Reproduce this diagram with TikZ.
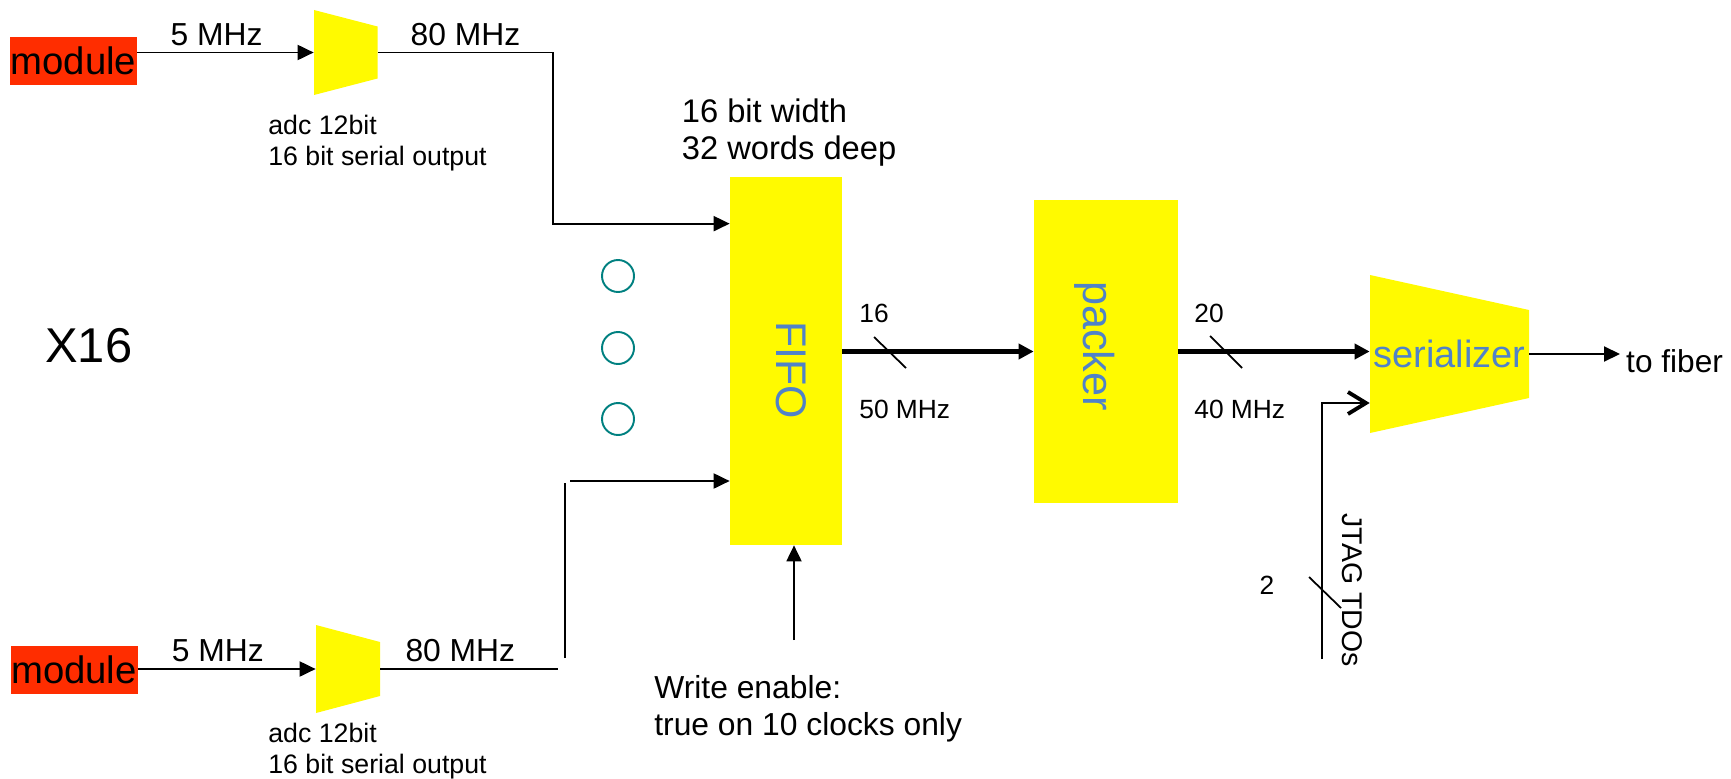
\documentclass[tikz,border=0pt]{standalone}
\usepackage{fontspec}
\setmainfont{Liberation Sans}
\usepackage{tikz}
\usetikzlibrary{arrows.meta, positioning, calc}
\definecolor{chipyellow}{RGB}{255,250,0}
\definecolor{modred}{RGB}{255,45,0}
\definecolor{lblblue}{RGB}{80,130,200}
\definecolor{dotteal}{RGB}{0,128,128}
\tikzset{
  module/.style={rectangle, fill=modred, minimum width=2.54cm, minimum height=0.95cm, inner sep=0pt,
    font=\fontsize{21.8}{25}\selectfont},
  block/.style={rectangle, fill=chipyellow, inner sep=0pt},
  taper/.style={rectangle, inner sep=0pt, path picture={
    \fill[chipyellow] (path picture bounding box.north west)
      -- ([yshift=-#1]path picture bounding box.north east)
      -- ([yshift=#1]path picture bounding box.south east)
      -- (path picture bounding box.south west) -- cycle;}},
  arr/.style={-{Triangle[length=0.32cm, width=0.30cm]}, line width=1.1pt},
  line/.style={line width=1.1pt}
}

\begin{document}
\begin{tikzpicture}[
  mhz/.style={font=\fontsize{18.1}{22}\selectfont, inner sep=0.12cm},
  note/.style={align=left, inner sep=0pt, anchor=north west},
  blocklbl/.style={text=lblblue, inner sep=0pt},
  buslbl/.style={font=\fontsize{15}{18}\selectfont, inner sep=0pt, anchor=base west},
  bus/.style={-{Triangle[length=0.30cm, width=0.30cm]}, line width=2.4pt},
  openarr/.style={-{Straight Barb[length=0.36cm, width=0.44cm, line width=2.2pt]}, line width=1.1pt},
  tick/.style={line width=1pt},
  dot/.style={circle, draw=dotteal, line width=1.1pt, minimum size=0.64cm, inner sep=0pt}
]
\useasboundingbox (0,0) rectangle (34.62,-15.56);

%--- top channel ---
\node[module] (modtop) at (1.47,-1.22) {module};
\node[taper=0.33cm, minimum width=1.27cm, minimum height=1.70cm] (adctop) at (6.915,-1.05) {};
\node[note, font=\fontsize{15.2}{17.6}\selectfont] (adctxt1) at (5.36,-2.29) {adc 12bit\\16 bit serial output};
\draw[arr] (modtop.east |- adctop.west) -- node[above, mhz, pos=0.45] {5 MHz} (adctop.west);

%--- bottom channel ---
\node[module] (modbot) at (1.48,-13.40) {module};
\node[taper=0.34cm, minimum width=1.28cm, minimum height=1.76cm] (adcbot) at (6.96,-13.38) {};
\node[note, font=\fontsize{15.2}{17.6}\selectfont] (adctxt2) at (5.36,-14.45) {adc 12bit\\16 bit serial output};
\draw[arr] (modbot.east |- adcbot.west) -- node[above, mhz, pos=0.45] {5 MHz} (adcbot.west);

\node[font=\fontsize{27.8}{32}\selectfont, anchor=base west, inner sep=0pt] (xsixteen) at (0.90,-7.24) {X16};

%--- FIFO ---
\node[block, minimum width=2.24cm, minimum height=7.36cm,
  label={[blocklbl, font=\fontsize{24.4}{28}\selectfont, xshift=0.10cm, yshift=-0.18cm]center:\rotatebox{-90}{FIFO}}]
  (fifo) at (15.72,-7.22) {};
\node[note, font=\fontsize{18.6}{21.5}\selectfont] (fifotxt) at (13.63,-1.96) {16 bit width\\32 words deep};
\foreach \y [count=\i] in {-5.52,-6.96,-8.38}
  \node[dot] (dot\i) at (12.36,\y) {};

% adc outputs into the FIFO
\coordinate (bendtop) at (11.06,-1.05);
\draw[arr] (adctop.east) -- node[above, mhz] {80 MHz} (bendtop) |- ([yshift=-0.94cm]fifo.north west);
\coordinate (endbot) at (11.16,-13.38);
\draw[line] (adcbot.east) -- node[above, mhz, pos=0.45] {80 MHz} (endbot);
\coordinate (riselow) at (11.30,-13.16);
\coordinate (risehigh) at (11.30,-9.66);
\draw[line] (riselow) -- (risehigh);
\coordinate (inlow) at (11.40,-9.62);
\draw[arr] (inlow) -- (inlow -| fifo.west);

% write enable
\coordinate (wesrc) at (15.88,-12.80);
\draw[arr] (wesrc) -- (wesrc |- fifo.south);
\node[note, font=\fontsize{18.1}{21.3}\selectfont] (wetxt) at (13.08,-13.50) {Write enable:\\true on 10 clocks only};

%--- packer ---
\node[block, minimum width=2.88cm, minimum height=6.06cm,
  label={[blocklbl, font=\fontsize{24.6}{28}\selectfont, xshift=-0.22cm, yshift=0.11cm]center:\rotatebox{-90}{packer}}]
  (packer) at (22.12,-7.03) {};
\draw[bus] (fifo.east |- packer.west) -- (packer.west);
\node[buslbl] (bw16) at (17.18,-6.44) {16};
\draw[tick] (17.48,-6.74) -- (18.12,-7.36);
\node[buslbl] (clk50) at (17.18,-8.36) {50 MHz};

%--- serializer ---
\node[taper=0.70cm, minimum width=3.18cm, minimum height=3.16cm, text=lblblue,
  font=\fontsize{21.6}{25}\selectfont] (ser) at (28.99,-7.08) {serializer};
\draw[bus] (packer.east) -- (packer.east -| ser.west);
\node[buslbl] (bw20) at (23.88,-6.44) {20};
\draw[tick] (24.20,-6.72) -- (24.84,-7.36);
\node[buslbl] (clk40) at (23.88,-8.36) {40 MHz};

\node[font=\fontsize{18}{22}\selectfont, anchor=west] (fiber) at (32.40,-7.22) {to fiber};
\draw[arr] (ser.east) -- (ser.east -| fiber.west);

% JTAG input
\coordinate (jtagsrc) at (26.44,-13.18);
\draw[openarr] (jtagsrc) |- ([yshift=-0.98cm]ser.west);
\draw[tick] (26.18,-11.54) -- (26.82,-12.16);
\node[font=\fontsize{15}{18}\selectfont] (bw2) at (25.34,-11.70) {2};
\node[font=\fontsize{16.2}{19}\selectfont] (jtagtxt) at (27.04,-11.80) {\rotatebox{-90}{JTAG TDOs}};
\end{tikzpicture}
\end{document}
